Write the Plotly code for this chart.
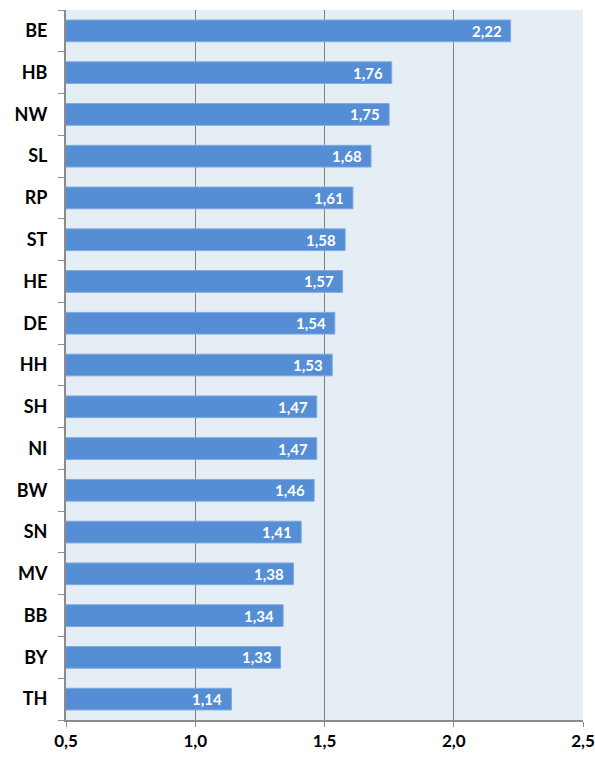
import plotly.graph_objects as go

states = ["BE", "HB", "NW", "SL", "RP", "ST", "HE", "DE", "HH", "SH", "NI", "BW", "SN", "MV", "BB", "BY", "TH"]
values = [2.22, 1.76, 1.75, 1.68, 1.61, 1.58, 1.57, 1.54, 1.53, 1.47, 1.47, 1.46, 1.41, 1.38, 1.34, 1.33, 1.14]
x_ticks = [0.5, 1.0, 1.5, 2.0, 2.5]
x_tick_labels = ["0,5", "1,0", "1,5", "2,0", "2,5"]

FONT = "Lato, 'Open Sans', sans-serif"

fig = go.Figure(go.Bar(
    x=values,
    y=states,
    orientation="h",
    marker=dict(color="#558ED5", line=dict(color="#7FAAE0", width=1)),
    width=0.52,
    cliponaxis=True,
    hoverinfo="x+y",
))

for s, v in zip(states, values):
    fig.add_annotation(
        x=v, y=s, xref="x", yref="y",
        text=f"{v:.2f}".replace(".", ","),
        showarrow=False,
        xanchor="right", yanchor="middle",
        xshift=-7,
        font=dict(family=FONT, size=15, color="white", weight="bold"),
    )

fig.update_layout(
    width=595, height=758,
    margin=dict(l=66, r=12, t=10, b=38, autoexpand=False),
    paper_bgcolor="white",
    plot_bgcolor="#E6EEF5",
    showlegend=False,
    xaxis=dict(
        range=[0.5, 2.5],
        tickvals=x_ticks,
        ticktext=x_tick_labels,
        automargin=False,
        showgrid=True,
        gridcolor="#808080",
        gridwidth=1,
        zeroline=False,
        showline=True,
        linecolor="#8C8C8C",
        linewidth=2,
        ticks="outside",
        ticklen=5,
        tickcolor="#8C8C8C",
        tickfont=dict(family=FONT, size=17, color="black", weight="bold"),
    ),
    yaxis=dict(
        categoryorder="array",
        categoryarray=states[::-1],
        automargin=False,
        showline=True,
        linecolor="#8C8C8C",
        linewidth=2,
        ticks="outside",
        tickson="boundaries",
        ticklen=6,
        tickcolor="#8C8C8C",
        ticklabelstandoff=13,
        showgrid=False,
        tickfont=dict(family=FONT, size=18, color="black", weight="bold"),
    ),
)

fig.write_html(
    "out.html",
    config={"displayModeBar": False},
    post_script="document.body.style.margin='0';document.body.style.padding='0';",
)
